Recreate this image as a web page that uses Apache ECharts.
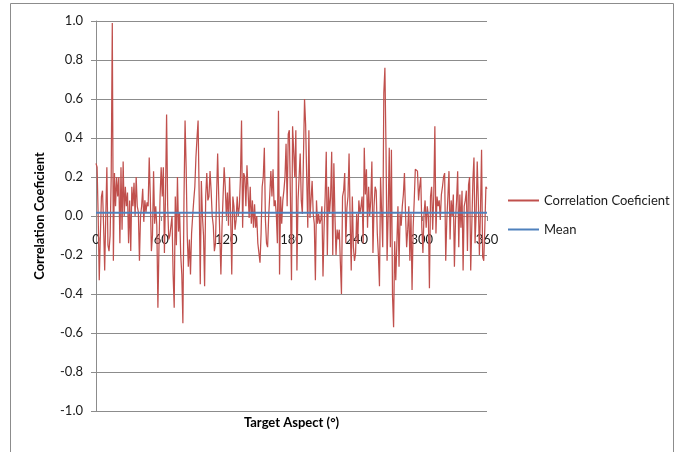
<!DOCTYPE html>
<html><head><meta charset="utf-8">
<script src="https://cdn.jsdelivr.net/npm/echarts@6/dist/echarts.min.js"></script>
<style>html,body{margin:0;padding:0;background:#fff}#c{width:682px;height:452px}</style>
</head><body><div id="c"></div>
<script>
// Target aspect in degrees (0..360, step 1)
const aspects = Array.from({length: 361}, (_, i) => i);
// Correlation coefficient per degree
const correlation = [
 0.27,0.25,0.0,-0.33,-0.1,0.1,0.13,-0.05,-0.28,0.0,
 0.25,-0.15,-0.18,-0.1,0.2,0.99,-0.23,0.22,0.05,0.2,
 0.1,0.2,-0.14,0.25,-0.07,0.28,0.0,0.15,0.05,0.12,
 -0.14,0.08,-0.18,0.15,0.05,0.17,0.0,0.2,0.05,0.02,
 -0.23,0.0,0.05,0.14,-0.03,0.08,0.02,0.07,0.05,0.3,
 0.1,-0.18,-0.1,0.23,-0.04,0.05,-0.05,-0.47,-0.15,0.1,
 0.25,0.1,0.25,-0.19,0.1,0.52,0.05,-0.12,-0.1,-0.09,
 0.0,-0.3,-0.47,0.1,-0.15,0.2,-0.08,0.02,-0.2,-0.3,
 -0.55,0.08,0.49,0.25,-0.1,-0.26,-0.12,-0.3,-0.09,0.0,
 0.08,0.15,0.3,0.4,0.49,0.1,-0.35,0.18,0.0,-0.1,
 -0.36,0.1,0.22,0.08,0.1,0.23,0.13,0.0,-0.05,-0.18,
 -0.14,0.1,0.32,0.1,-0.1,-0.3,-0.06,0.1,0.25,0.15,
 0.0,0.12,-0.05,0.2,0.0,-0.3,0.1,0.05,-0.07,-0.02,
 0.1,0.0,0.05,0.2,0.49,-0.06,0.22,0.2,0.05,0.26,
 0.13,-0.01,0.15,-0.04,0.08,-0.06,0.06,-0.06,0.0,-0.14,
 -0.14,-0.24,-0.09,0.15,0.2,0.35,-0.02,-0.14,-0.16,0.0,
 0.11,0.23,0.1,0.24,0.05,0.08,0.01,-0.14,0.54,-0.3,
 0.1,-0.04,0.08,0.13,0.2,0.37,0.05,0.42,0.44,0.1,
 -0.33,0.46,0.47,0.2,0.44,-0.28,0.08,0.2,0.32,0.08,
 0.01,0.3,0.6,0.47,0.2,-0.06,0.44,-0.01,-0.02,0.18,
 0.01,-0.04,-0.33,0.08,-0.04,0.01,-0.04,-0.02,0.05,-0.31,
 -0.06,0.1,0.33,-0.2,0.15,0.01,0.1,0.33,-0.2,0.27,
 0.0,-0.2,-0.07,-0.12,-0.07,-0.24,-0.4,0.1,0.13,0.22,
 -0.14,0.04,0.1,0.32,-0.02,-0.28,0.1,-0.16,-0.23,-0.19,
 0.01,-0.14,0.08,0.01,0.05,0.1,-0.14,0.35,0.11,0.24,
 -0.06,0.15,0.0,0.08,0.28,-0.19,0.05,0.15,0.13,-0.09,
 -0.2,-0.36,0.2,0.21,-0.16,0.63,0.76,0.35,-0.23,0.01,
 0.35,-0.16,0.34,-0.41,-0.57,-0.13,-0.33,-0.14,0.05,-0.26,
 0.01,-0.05,0.05,0.11,0.22,0.01,-0.16,-0.07,0.05,-0.23,
 0.01,-0.38,-0.06,0.08,0.24,0.25,0.23,0.08,0.15,0.2,
 -0.06,-0.19,0.01,0.08,-0.06,0.05,0.0,-0.37,0.1,0.15,
 -0.07,0.11,0.46,-0.09,0.1,0.05,0.08,-0.02,0.11,0.15,
 0.2,0.22,-0.23,-0.02,0.1,0.23,-0.12,0.08,0.0,0.11,
 -0.26,-0.02,0.08,0.23,-0.16,0.11,-0.06,0.13,-0.28,0.05,
 0.08,0.13,-0.18,0.16,0.2,-0.28,-0.28,0.18,0.3,-0.14,
 0.01,0.28,0.08,-0.2,0.03,0.34,-0.21,-0.23,-0.06,0.15,
 0.14
];
const meanValue = 0.017;
const meanX = [0, 360];
const xTicks = [0, 60, 120, 180, 240, 300, 360];
const seriesNames = ['Correlation Coeficient', 'Mean'];

const font = 'Lato, "Open Sans", sans-serif';
const gridColor = '#8c8c8c';
const chart = echarts.init(document.getElementById('c'), null, {renderer: 'canvas'});
chart.setOption({
  animation: false,
  backgroundColor: '#fff',
  textStyle: {fontFamily: font},
  graphic: [{
    type: 'rect', silent: true,
    shape: {x: 10.5, y: 3.5, width: 663, height: 470},
    style: {fill: 'none', stroke: '#8c8c8c', lineWidth: 1}
  }],
  grid: {left: 96, top: 21, right: 195, bottom: 41, containLabel: false, outerBoundsMode: 'none'},
  legend: {
    orient: 'vertical', left: 503, top: 189, itemGap: 16,
    itemWidth: 31, itemHeight: 2, icon: 'rect',
    textStyle: {fontFamily: font, fontSize: 13, color: '#1a1a1a', padding: [0,0,0,0]},
    data: seriesNames
  },
  xAxis: {
    type: 'value', min: xTicks[0], max: xTicks[xTicks.length - 1], interval: 60,
    position: 'bottom', offset: -195,
    axisLine: {show: true, onZero: false, lineStyle: {color: gridColor, width: 1}},
    axisTick: {show: true, length: 5, inside: false, lineStyle: {color: gridColor}},
    axisLabel: {fontFamily: font, fontSize: 13, color: '#1a1a1a', margin: 17},
    splitLine: {show: false},
    name: 'Target Aspect (°)', nameLocation: 'middle', nameGap: 200,
    nameTextStyle: {fontFamily: font, fontSize: 13, fontWeight: 'bold', color: '#000'}
  },
  yAxis: {
    type: 'value', min: -1, max: 1, interval: 0.2,
    axisLine: {show: true, onZero: false, lineStyle: {color: gridColor, width: 1}},
    axisTick: {show: true, length: 5, inside: false, lineStyle: {color: gridColor}},
    axisLabel: {fontFamily: font, fontSize: 13, color: '#1a1a1a', margin: 13,
      formatter: v => v.toFixed(1)},
    splitLine: {show: true, lineStyle: {color: gridColor, width: 1}},
    name: 'Correlation Coeficient', nameLocation: 'middle', nameGap: 50, nameRotate: 90,
    nameTextStyle: {fontFamily: font, fontSize: 13, fontWeight: 'bold', color: '#000'}
  },
  series: [{
    name: seriesNames[0], type: 'line', symbol: 'none',
    data: aspects.map((a, i) => [a, correlation[i]]),
    lineStyle: {color: '#C0504D', width: 1.25}, itemStyle: {color: '#C0504D'}, z: 3
  }, {
    name: seriesNames[1], type: 'line', symbol: 'none',
    data: meanX.map(x => [x, meanValue]),
    lineStyle: {color: '#4F81BD', width: 2}, itemStyle: {color: '#4F81BD'}, z: 4
  }]
});
</script></body></html>
